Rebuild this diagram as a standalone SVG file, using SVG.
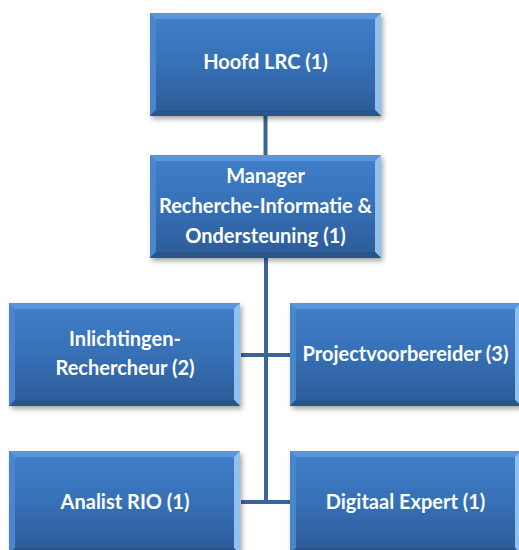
<svg xmlns="http://www.w3.org/2000/svg" width="519" height="550" viewBox="0 0 519 550">
<style>
.t{font-family:Lato,"Open Sans","Liberation Sans",sans-serif;font-weight:bold;font-size:20px;fill:#ffffff;text-anchor:middle}
.c{stroke:#3a659b;stroke-width:4;fill:none}
</style>
<defs>
<linearGradient id="outer" x1="0" y1="0" x2="0" y2="1">
<stop offset="0" stop-color="#5592d6"/>
<stop offset="1" stop-color="#2c5a96"/>
</linearGradient>
<linearGradient id="inner" x1="0" y1="0" x2="0" y2="1">
<stop offset="0" stop-color="#3f7ec8"/>
<stop offset="0.5" stop-color="#3670b6"/>
<stop offset="1" stop-color="#2d5d9a"/>
</linearGradient>
<filter id="sh" x="-10%" y="-10%" width="125%" height="130%">
<feDropShadow dx="2" dy="3" stdDeviation="2.5" flood-color="#000" flood-opacity="0.35"/>
</filter>
<g id="box">
<rect x="0" y="0" width="231" height="103" fill="url(#outer)" filter="url(#sh)"/>
<rect x="6" y="6" width="219" height="91" fill="url(#inner)"/>
<path d="M0 0H231L225 6H6Z" fill="#5a97da"/>
<path d="M231 0V103L225 97V6Z" fill="#8fc0ee"/>
<path d="M0 0L6 6V97L0 103Z" fill="#4a86cc"/>
<path d="M0 103L6 97H225L231 103Z" fill="#2a558c"/>
</g>
</defs>
<g id="connectors">
<line class="c" x1="265.5" y1="116" x2="265.5" y2="155"/>
<line class="c" x1="266" y1="258" x2="266" y2="503"/>
<line class="c" x1="241" y1="355" x2="290" y2="355"/>
<line class="c" x1="241" y1="502" x2="290" y2="502"/>
</g>
<g id="hoofd">
<use href="#box" x="150" y="13"/>
<text class="t" x="265.5" y="69">Hoofd LRC (1)</text>
</g>
<g id="manager">
<use href="#box" x="150" y="155"/>
<text class="t" x="265.5" y="183">Manager</text>
<text class="t" x="265.5" y="213">Recherche-Informatie &amp;</text>
<text class="t" x="265.5" y="243">Ondersteuning (1)</text>
</g>
<g id="inlichtingen">
<use href="#box" x="9" y="303"/>
<text class="t" x="125" y="346">Inlichtingen-</text>
<text class="t" x="125" y="375">Rechercheur (2)</text>
</g>
<g id="project">
<use href="#box" x="290" y="303"/>
<text class="t" x="405.5" y="361">Projectvoorbereider (3)</text>
</g>
<g id="analist">
<use href="#box" x="9" y="451"/>
<text class="t" x="125" y="509">Analist RIO (1)</text>
</g>
<g id="digitaal">
<use href="#box" x="290" y="451"/>
<text class="t" x="405.5" y="509">Digitaal Expert (1)</text>
</g>
</svg>
